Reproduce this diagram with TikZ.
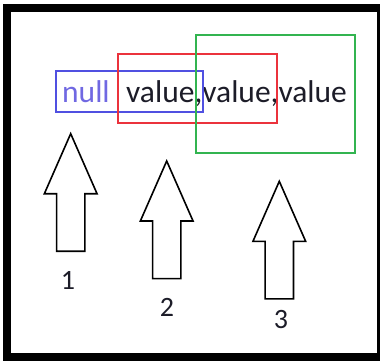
\documentclass[tikz,border=0pt]{standalone}
\usepackage{fontspec}
\setmainfont{Carlito}
\usetikzlibrary{shapes.arrows}

\definecolor{nullblue}{RGB}{112,104,226}
\definecolor{inkdark}{RGB}{28,28,40}
\definecolor{boxblue}{RGB}{80,80,225}
\definecolor{boxred}{RGB}{235,50,60}
\definecolor{boxgreen}{RGB}{50,180,80}

\tikzset{
  txt/.style={inner sep=0pt, text=inkdark, font=\fontsize{31.5}{36}\selectfont},
  num/.style={inner sep=0pt, text=inkdark, font=\fontsize{28}{32}\selectfont},
  uparrow/.style={draw, line width=1.6pt, shape=single arrow, rotate=90,
    anchor=tip, inner xsep=0pt, inner ysep=13.35pt, minimum height=117.6pt,
    minimum width=51pt, single arrow head extend=12.2pt,
    single arrow tip angle=47.4},
  mark box/.style={line width=1.6pt}
}

\begin{document}
\begin{tikzpicture}[x=1pt,y=-1pt]
  \useasboundingbox (0,0) rectangle (380,360);
  \draw[line width=8pt] (7,8) rectangle (381,357);

  % the row of values
  \node (null) [txt, text=nullblue, anchor=base west] at (62,102) {null};
  \node (vals) [txt, anchor=base west] at (126,102) {value,value,value};

  % the three windows
  \draw[mark box, boxblue]  (56,71)  rectangle (203,112);
  \draw[mark box, boxred]   (118,54) rectangle (277,123);
  \draw[mark box, boxgreen] (196,35) rectangle (355,153);

  % pointers and their numbers
  \node (p1) [uparrow] at (70.7,131.7) {};
  \node (p2) [uparrow] at (166.7,159) {};
  \node (p3) [uparrow] at (279.3,179.3) {};

  \node (n1) [num] at (68,280) {1};
  \node (n2) [num] at (167,307) {2};
  \node (n3) [num] at (281,320) {3};
\end{tikzpicture}
\end{document}
